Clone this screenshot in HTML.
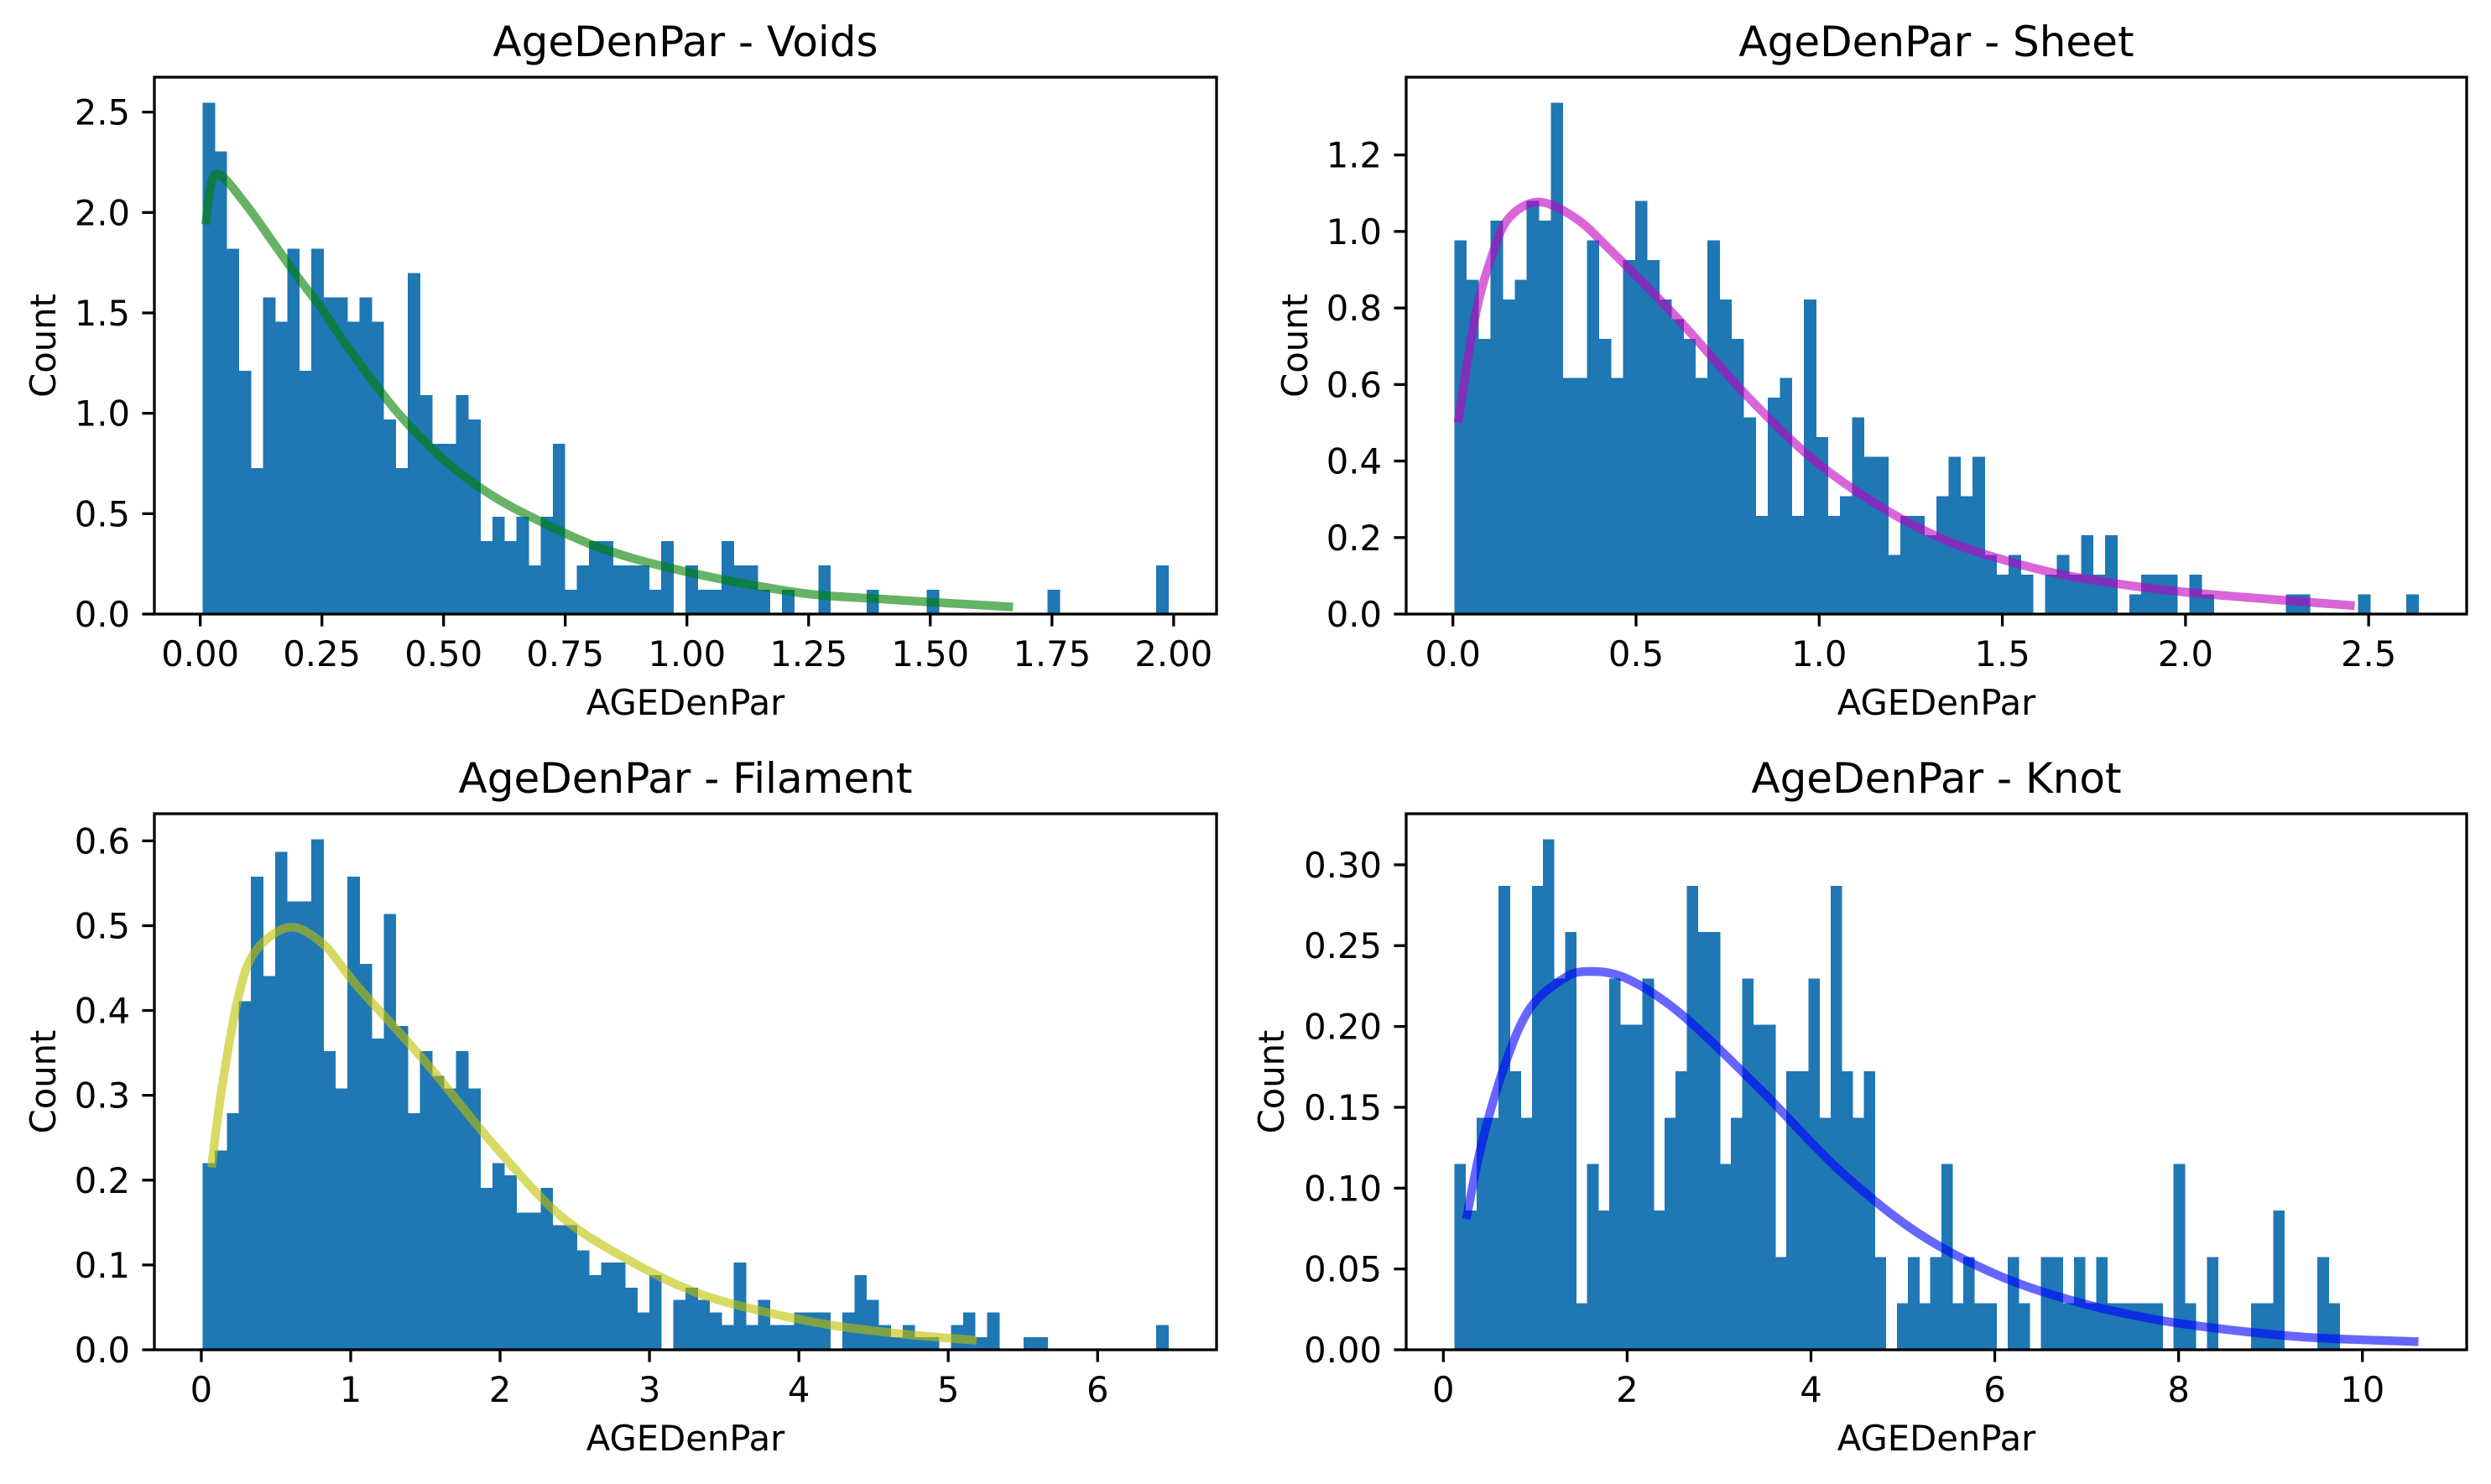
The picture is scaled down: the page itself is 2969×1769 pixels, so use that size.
<!DOCTYPE html>
<html><head><meta charset="utf-8"><style>
html,body{margin:0;padding:0;background:#fff;}
svg{display:block;font-family:"DejaVu Sans","Liberation Sans",sans-serif;}
</style></head><body>
<svg id="fig" width="2969" height="1769" viewBox="0 0 2969 1769" xmlns="http://www.w3.org/2000/svg">
<rect x="0" y="0" width="2969" height="1769" fill="#fff"/>
</svg>
<script>
// ---- Voids ----
const voidsBinStart = 0.005, voidsBinWidth = 0.0248, voidsUnit = 0.12127;
const voidsCounts = [21,19,15,10,6,13,12,15,10,15,13,13,12,13,12,8,6,14,9,7,7,9,8,3,4,3,4,2,4,7,1,2,3,3,2,2,2,1,3,0,2,1,1,3,2,2,1,0,1,0,0,2,0,0,0,1,0,0,0,0,1,0,0,0,0,0,0,0,0,0,1,0,0,0,0,0,0,0,0,2];
const voidsCurveX = [0.011,0.024,0.045,0.1,0.15,0.2,0.25,0.3,0.4,0.5,0.6,0.7,0.8,0.9,1.0,1.1,1.25,1.4,1.5,1.67];
const voidsCurveY = [1.94,2.155,2.18,2.02,1.85,1.68,1.52,1.34,1.02,0.77,0.59,0.46,0.35,0.27,0.21,0.16,0.10,0.075,0.06,0.035];
const voidsXTicks = [0,0.25,0.5,0.75,1.0,1.25,1.5,1.75,2.0];
const voidsXTickLabels = ["0.00","0.25","0.50","0.75","1.00","1.25","1.50","1.75","2.00"];
const voidsYTicks = [0,0.5,1.0,1.5,2.0,2.5];
const voidsYTickLabels = ["0.0","0.5","1.0","1.5","2.0","2.5"];
// ---- Sheet ----
const sheetBinStart = 0.004, sheetBinWidth = 0.0329, sheetUnit = 0.0514;
const sheetCounts = [19,17,14,20,16,17,21,20,26,12,12,19,14,12,18,21,18,16,15,14,12,19,16,14,10,5,11,12,5,16,9,5,6,10,8,8,3,5,5,4,6,8,6,8,3,2,3,2,0,2,3,2,4,2,4,0,1,2,2,2,0,2,1,0,0,0,0,0,0,1,1,0,0,0,0,1,0,0,0,1];
const sheetCurveX = [0.014,0.06,0.106,0.152,0.234,0.336,0.428,0.612,0.796,0.98,1.165,1.348,1.532,1.716,1.993,2.462];
const sheetCurveY = [0.50,0.774,0.935,1.034,1.077,1.034,0.953,0.774,0.577,0.407,0.282,0.192,0.134,0.094,0.058,0.022];
const sheetXTicks = [0,0.5,1.0,1.5,2.0,2.5];
const sheetXTickLabels = ["0.0","0.5","1.0","1.5","2.0","2.5"];
const sheetYTicks = [0,0.2,0.4,0.6,0.8,1.0,1.2];
const sheetYTickLabels = ["0.0","0.2","0.4","0.6","0.8","1.0","1.2"];
// ---- Filament ----
const filBinStart = 0.009, filBinWidth = 0.0808, filUnit = 0.01468;
const filCounts = [15,16,19,28,38,30,40,36,36,41,24,21,38,31,25,35,26,19,24,22,21,24,21,13,15,14,11,11,13,10,10,8,6,7,7,5,3,6,0,4,5,4,3,2,7,2,4,2,2,3,3,3,0,3,6,4,2,1,2,1,1,0,2,3,1,3,0,0,1,1,0,0,0,0,0,0,0,0,0,2];
const filCurveX = [0.068,0.137,0.249,0.363,0.59,0.817,1.043,1.497,1.951,2.404,2.858,3.312,3.765,4.219,4.672,5.19];
const filCurveY = [0.215,0.308,0.417,0.470,0.498,0.478,0.429,0.340,0.243,0.158,0.106,0.0675,0.045,0.029,0.019,0.011];
const filXTicks = [0,1,2,3,4,5,6];
const filXTickLabels = ["0","1","2","3","4","5","6"];
const filYTicks = [0,0.1,0.2,0.3,0.4,0.5,0.6];
const filYTickLabels = ["0.0","0.1","0.2","0.3","0.4","0.5","0.6"];
// ---- Knot ----
const knotBinStart = 0.12, knotBinWidth = 0.1204, knotUnit = 0.02871;
const knotCounts = [4,3,5,5,10,6,5,10,11,8,9,1,4,3,8,7,7,8,3,5,6,10,9,9,4,5,8,7,7,2,6,6,8,5,10,6,5,6,2,0,1,2,1,2,4,1,2,1,1,0,2,1,0,2,2,1,2,1,2,1,1,1,1,1,0,4,1,0,2,0,0,0,1,1,3,0,0,0,2,1];
const knotCurveX = [0.25,0.42,0.68,0.94,1.29,1.55,1.98,2.58,3.45,4.31,5.17,6.04,6.90,7.76,8.63,9.49,10.61];
const knotCurveY = [0.081,0.128,0.178,0.211,0.229,0.234,0.230,0.208,0.161,0.111,0.072,0.046,0.0295,0.0186,0.0118,0.0074,0.005];
const knotXTicks = [0,2,4,6,8,10];
const knotXTickLabels = ["0","2","4","6","8","10"];
const knotYTicks = [0,0.05,0.1,0.15,0.2,0.25,0.3];
const knotYTickLabels = ["0.00","0.05","0.10","0.15","0.20","0.25","0.30"];

const NS = "http://www.w3.org/2000/svg";
const svg = document.getElementById("fig");
function mk(tag, attrs, parent) {
  const e = document.createElementNS(NS, tag);
  for (const k in attrs) e.setAttribute(k, attrs[k]);
  (parent || svg).appendChild(e);
  return e;
}
function smoothPath(p) {
  let d = "M" + p[0][0].toFixed(2) + "," + p[0][1].toFixed(2);
  for (let i = 0; i < p.length - 1; i++) {
    const a = p[Math.max(i - 1, 0)], b = p[i], c = p[i + 1], e = p[Math.min(i + 2, p.length - 1)];
    const c1x = b[0] + (c[0] - a[0]) / 6, c1y = b[1] + (c[1] - a[1]) / 6;
    const c2x = c[0] - (e[0] - b[0]) / 6, c2y = c[1] - (e[1] - b[1]) / 6;
    d += " C" + c1x.toFixed(2) + "," + c1y.toFixed(2) + " " + c2x.toFixed(2) + "," + c2y.toFixed(2) + " " + c[0].toFixed(2) + "," + c[1].toFixed(2);
  }
  return d;
}

function panel(key, title, box, binStart, binWidth, unit, counts, cx, cy, xt, xtl, yt, ytl, lineColor) {
  const g = mk("g", {});
  
  
  const L = box[0], T = box[1], W = box[2], H = box[3];
  const dens = counts.map(c => c * unit);
  const binEnd = binStart + binWidth * counts.length;
  const dmin = Math.min(binStart, cx[0]);
  const dmax = Math.max(binEnd, cx[cx.length - 1]);
  const pad = (dmax - dmin) * 0.05;
  const x0 = dmin - pad, x1 = dmax + pad;
  const ymax = Math.max(Math.max(...dens), Math.max(...cy)) * 1.05;
  const X = v => L + (v - x0) / (x1 - x0) * W;
  const Y = v => T + H - v / ymax * H;

  const bars = mk("g", {"shape-rendering": "crispEdges"}, g);
  
  
  dens.forEach((d, i) => {
    if (d <= 0) return;
    const xa = X(binStart + i * binWidth), xb = X(binStart + (i + 1) * binWidth);
    const r = mk("rect", {x: xa.toFixed(2), y: Y(d).toFixed(2), width: (xb - xa + 0.4).toFixed(2), height: (Y(0) - Y(d)).toFixed(2), fill: "#1f77b4"}, bars);
    
    
  });

  const pts = cx.map((v, i) => [X(v), Y(cy[i])]);
  const pl = mk("path", {d: smoothPath(pts), fill: "none", stroke: lineColor, "stroke-opacity": 0.6, "stroke-width": 10.4, "stroke-linejoin": "round"}, g);
  
  

  const fr = mk("rect", {x: L, y: T, width: W, height: H, fill: "none", stroke: "#000", "stroke-width": 3.3}, g);
  
  

  xt.forEach((v, i) => {
    const x = X(v);
    mk("line", {x1: x, x2: x, y1: T + H, y2: T + H + 14.6, stroke: "#000", "stroke-width": 3.3}, g);
    const t = mk("text", {x: x, y: T + H + 62, "text-anchor": "middle", "font-size": 41.7, fill: "#000"}, g);
    t.textContent = xtl[i];
    
    
  });
  yt.forEach((v, i) => {
    const y = Y(v);
    mk("line", {x1: L - 14.6, x2: L, y1: y, y2: y, stroke: "#000", "stroke-width": 3.3}, g);
    const t = mk("text", {x: L - 29, y: y + 15, "text-anchor": "end", "font-size": 41.7, fill: "#000"}, g);
    t.textContent = ytl[i];
    
    
  });

  const tt = mk("text", {x: L + W / 2, y: T - 25, "text-anchor": "middle", "font-size": 50, fill: "#000"}, g);
  tt.textContent = title;
  
  

  const xl = mk("text", {x: L + W / 2, y: T + H + 120, "text-anchor": "middle", "font-size": 41.7, fill: "#000"}, g);
  xl.textContent = "AGEDenPar";
  
  

  const yx = L - (ytl[0].length > 3 ? 146 : 118), yy = T + H / 2;
  const yl = mk("text", {x: yx, y: yy, "text-anchor": "middle", "font-size": 41.7, fill: "#000", transform: "rotate(-90 " + yx + " " + yy + ")"}, g);
  yl.textContent = "Count";
  
  
}

panel("voids", "AgeDenPar - Voids", [184, 92, 1266, 640], voidsBinStart, voidsBinWidth, voidsUnit, voidsCounts, voidsCurveX, voidsCurveY, voidsXTicks, voidsXTickLabels, voidsYTicks, voidsYTickLabels, "#008000");
panel("sheet", "AgeDenPar - Sheet", [1676, 92, 1264, 640], sheetBinStart, sheetBinWidth, sheetUnit, sheetCounts, sheetCurveX, sheetCurveY, sheetXTicks, sheetXTickLabels, sheetYTicks, sheetYTickLabels, "#bf00bf");
panel("filament", "AgeDenPar - Filament", [184, 970, 1266, 639], filBinStart, filBinWidth, filUnit, filCounts, filCurveX, filCurveY, filXTicks, filXTickLabels, filYTicks, filYTickLabels, "#bfbf00");
panel("knot", "AgeDenPar - Knot", [1676, 970, 1264, 639], knotBinStart, knotBinWidth, knotUnit, knotCounts, knotCurveX, knotCurveY, knotXTicks, knotXTickLabels, knotYTicks, knotYTickLabels, "#0000ff");
</script>
</body></html>
